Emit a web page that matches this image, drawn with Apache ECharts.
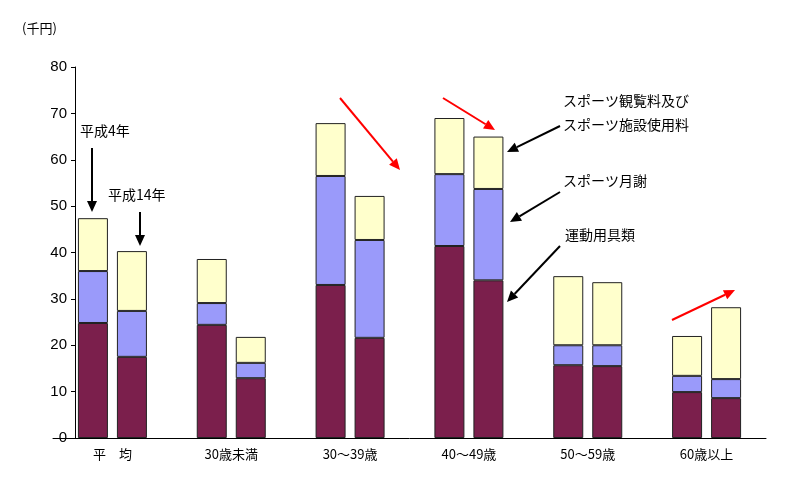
<!DOCTYPE html><html><head><meta charset="utf-8"><script src="https://cdn.jsdelivr.net/npm/echarts@6/dist/echarts.min.js"></script></head><body style="margin:0"><div id="c" style="width:800px;height:480px"></div><script>
const categories=['平　均','30歳未満','30～39歳','40～49歳','50～59歳','60歳以上'];
const h4Goods=[24.8,24.4,33.0,41.4,15.7,9.9];
const h4Lesson=[11.2,4.7,23.5,15.5,4.3,3.5];
const h4Watch=[11.4,9.5,11.4,12.1,14.9,8.6];
const h14Goods=[17.5,12.9,21.6,34.0,15.5,8.6];
const h14Lesson=[9.9,3.3,21.1,19.7,4.5,4.1];
const h14Watch=[12.9,5.6,9.5,11.3,13.6,15.5];
const yTicks=[0,10,20,30,40,50,60,70,80];
const cols=['#7b1f4c','#9a9afa','#ffffcc'];
function s(name,data,stack,ci){return {name,type:'bar',stack,data,barWidth:30,barGap:'30%',itemStyle:{color:cols[ci],borderColor:'#222',borderWidth:1}};}
function arrow(x1,y1,x2,y2,color){const a=Math.atan2(y2-y1,x2-x1),L=11,W=5;
 const bx=x2-L*Math.cos(a),by=y2-L*Math.sin(a);
 return [{type:'line',shape:{x1,y1,x2:bx,y2:by},style:{stroke:color,lineWidth:2}},
 {type:'polygon',shape:{points:[[x2,y2],[bx+W*Math.sin(a),by-W*Math.cos(a)],[bx-W*Math.sin(a),by+W*Math.cos(a)]]},style:{fill:color}}];}
function txt(x,y,t){return {type:'text',x,y,style:{text:t,font:'14px "Noto Sans CJK JP"',fill:'#000'}};}
const g=[].concat(arrow(340,98,400,170,'#f00'),arrow(443,98,495,130,'#f00'),arrow(672,320,735,290,'#f00'),
 arrow(560,126,507,152,'#000'),arrow(560,192,510,222,'#000'),arrow(560,246,507,302,'#000'),
 arrow(92,148,92,212,'#000'),arrow(140,212,140,246,'#000'),
 [txt(563,94,'スポーツ観覧料及び'),txt(563,118,'スポーツ施設使用料'),txt(563,174,'スポーツ月謝'),txt(565,228,'運動用具類'),
 txt(80,124,'平成4年'),txt(108,188,'平成14年'),
 {type:'text',x:22,y:22,style:{text:'(千円)',font:'13px "Noto Sans CJK JP"',fill:'#000'}}]);
const chart=echarts.init(document.getElementById('c'));
chart.setOption({animation:false,
 grid:{left:53,right:34,top:67,bottom:42},
 xAxis:{type:'category',data:categories,axisTick:{show:false},axisLine:{lineStyle:{color:'#000'}},
  axisLabel:{color:'#000',fontSize:13,fontFamily:'Noto Sans CJK JP',margin:10}},
 yAxis:{type:'value',min:0,max:80,interval:10,offset:-22,splitLine:{show:false},
  axisLine:{show:true,lineStyle:{color:'#000'}},axisTick:{show:true,length:4,lineStyle:{color:'#000'}},
  axisLabel:{color:'#000',fontSize:15,formatter:v=>yTicks.includes(v)?String(v):''}},
 series:[s('運動用具類',h4Goods,'a',0),s('スポーツ月謝',h4Lesson,'a',1),s('観覧料',h4Watch,'a',2),
  s('運動用具類',h14Goods,'b',0),s('スポーツ月謝',h14Lesson,'b',1),s('観覧料',h14Watch,'b',2)],
 graphic:g});
</script></body></html>
